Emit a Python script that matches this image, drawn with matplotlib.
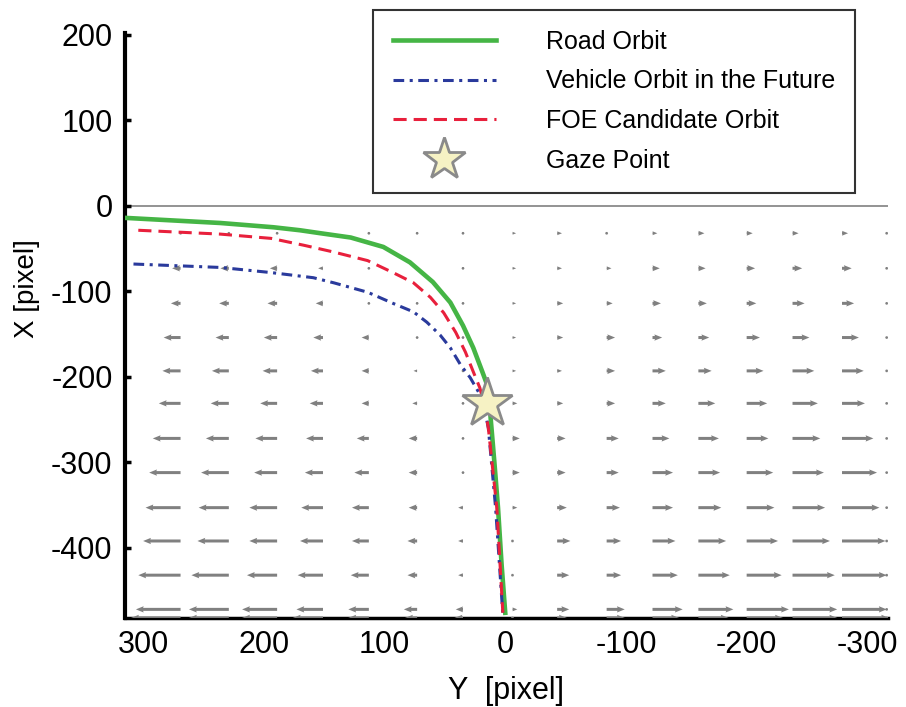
import numpy as np
import matplotlib
matplotlib.use("Agg")
import matplotlib.pyplot as plt

plt.rcParams['font.family'] = ['Liberation Sans', 'DejaVu Sans']
plt.rcParams['axes.unicode_minus'] = False

# orbits (Y pixel, X pixel)
road_y = [315, 236, 192, 170, 153, 128, 101, 79, 60, 45.5, 35, 26.5, 19, 14, 12, 9, 6, 3, 0]
road_x = [-14, -20, -25, -28.5, -32, -37, -48, -66, -89, -113, -140, -166, -194, -213,
          -250, -300, -353, -420, -476]

foe_y = [304, 236, 194, 167, 142, 114, 93, 76, 62, 51, 41, 33, 26.5, 21, 17, 14, 7, 2]
foe_x = [-28.5, -33, -38, -46, -54, -64, -78, -90, -107, -125, -148, -171, -194, -213,
         -235, -260, -353, -476]

vehicle_y = [308, 236, 194, 159, 142, 114, 93, 76, 65, 54, 45.5, 37, 29, 22, 17, 14, 8, 2]
vehicle_x = [-68, -72, -78, -84, -90, -101, -114, -124, -136, -151, -166, -186, -201, -218,
             -238, -260, -353, -478]

gaze_y = [15]
gaze_x = [-231]

# optical flow grid
grid_y = [269, 229, 189, 151, 113, 73, 35, -6, -43, -84, -122, -160, -200, -238, -279, -316]
grid_x = [-32, -73, -114, -154, -193, -231, -272, -312, -353, -392, -432, -472, -482]

# horizontal flow per grid row (left block, centre, right block)
flow_u = [
    [2, 2, 2, 2, 2, 2, 2, -3, -4, -2, -4, -5, -5, -5, -5, 0],
    [7, 7, 6, 4, 2, 2, 2, -3, -4, -4, -6, -6, -7, -8, -8, 0],
    [8, 8, 8, 6, 2, 2, 2, -3, -5, -5, -7, -7, -8, -10, -10, 0],
    [14, 11, 11, 8, 6, 2, 2, -3, -5, -7, -8, -9, -11, -14, -14, 0],
    [15, 14, 12, 10, 6, 3, 2, -3, -4, -7, -11, -11, -14, -18, -18, 0],
    [18, 15, 14, 11, 6, 4, 2, -4, -5, -7, -11, -14, -17, -21, -19, 0],
    [23, 19, 18, 14, 10, 7, 2, -6, -7, -10, -14, -17, -18, -23, -26, 0],
    [26, 23, 19, 15, 12, 7, 2, -6, -7, -10, -17, -18, -22, -26, -29, 0],
    [29, 25, 23, 18, 14, 7, 4, -4, -8, -11, -17, -19, -23, -27, -31, 0],
    [31, 26, 23, 19, 14, 8, 4, -2, -11, -12, -19, -23, -26, -31, -36, 0],
    [35, 31, 25, 21, 15, 8, 4, -2, -10, -12, -21, -26, -29, -35, -37, 0],
    [37, 33, 29, 22, 17, 11, 6, -4, -10, -15, -25, -29, -35, -37, -37, 0],
    [41, 33, 29, 25, 17, 10, 7, 0, -8, -15, -22, -25, -30, -37, -39, 0],
]

fig = plt.figure(figsize=(9.06, 7.07), dpi=100)
ax = fig.add_axes([0.138, 0.126, 0.842, 0.827])

gy, gx = np.meshgrid(grid_y, grid_x)
u = np.array(flow_u, dtype=float)
ax.quiver(gy, gx, u, np.zeros_like(u), angles='xy', scale_units='xy', scale=1,
          units='dots', width=3, headwidth=2.1, headlength=2.6, headaxislength=2.4,
          color='#808080', zorder=3)

ax.axhline(0, color='#808080', lw=1.2, zorder=1)

ax.plot(road_y, road_x, color='#45b545', lw=3.3, zorder=4, label='Road Orbit')
ax.plot(vehicle_y, vehicle_x, color='#2a3a9c', lw=2.2, dashes=(3.5, 1.8, 1, 1.8),
        zorder=4, label='Vehicle Orbit in the Future')
ax.plot(foe_y, foe_x, color='#e8203c', lw=2.2, dashes=(4.3, 2.3), zorder=4,
        label='FOE Candidate Orbit')
ax.plot(gaze_y, gaze_x, ls='none', marker='*', markersize=38,
        markerfacecolor='#f6f2c4', markeredgecolor='#8a8a8a', markeredgewidth=2,
        zorder=5, label='Gaze Point')

ax.set_xlim(315, -317)
ax.set_ylim(-482, 202)
ax.set_xticks([300, 200, 100, 0, -100, -200, -300])
ax.set_yticks([200, 100, 0, -100, -200, -300, -400])

for s in ['top', 'right']:
    ax.spines[s].set_visible(False)
ax.spines['left'].set_linewidth(3)
ax.spines['bottom'].set_linewidth(2.5)

ax.tick_params(axis='y', direction='in', length=4, width=2.5, labelsize=22, pad=9)
ax.tick_params(axis='x', length=0, labelsize=22, pad=9)

ax.set_xlabel('Y  [pixel]', fontsize=22, labelpad=11)
ax.set_ylabel('X [pixel]', fontsize=20)
ax.yaxis.set_label_coords(-0.111, 0.564)

leg = fig.legend(loc='upper left', bbox_to_anchor=(373 / 906, 1 - 10 / 707),
                 borderaxespad=0, fontsize=18, handlelength=4.1, handletextpad=2.0,
                 borderpad=0.8, labelspacing=0.62, markerscale=0.85,
                 fancybox=False, frameon=True)
leg.get_frame().set_edgecolor('black')
leg.get_frame().set_linewidth(1.5)

plt.savefig('out.png', dpi=100)
